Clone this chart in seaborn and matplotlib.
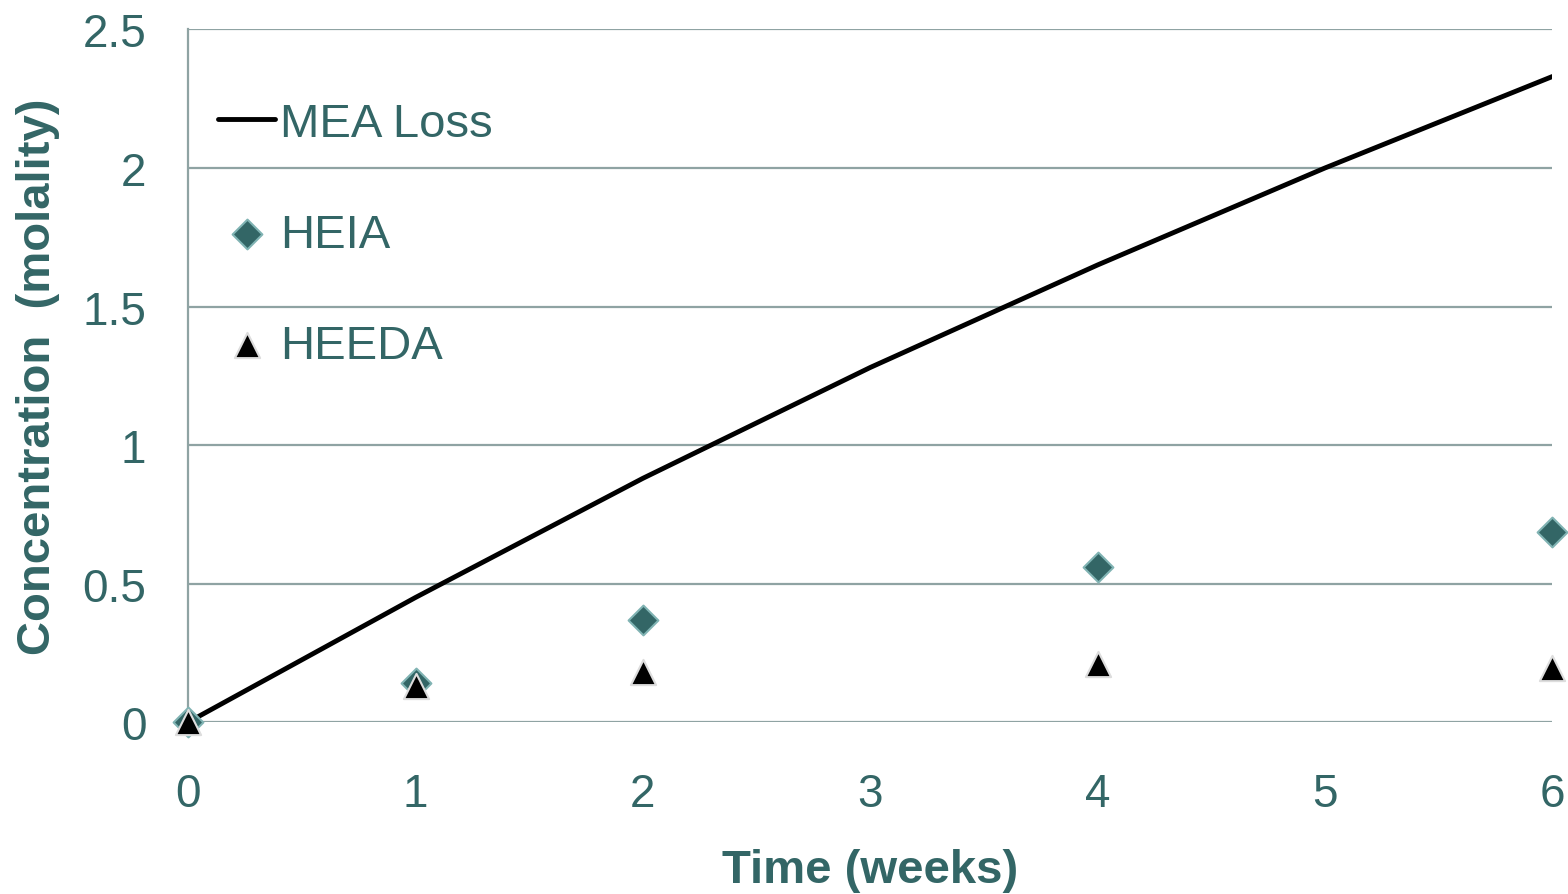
import numpy as np
import pandas as pd
import matplotlib
matplotlib.use('Agg')
import matplotlib.pyplot as plt
import seaborn as sns

# dados
semanas_mea = [0, 1, 2, 3, 4, 5, 6]
mea_loss = [0.0, 0.45, 0.88, 1.28, 1.65, 2.0, 2.33]

semanas_amostra = [0, 1, 2, 4, 6]
heia = [0.0, 0.14, 0.37, 0.56, 0.685]
heeda = [0.0, 0.13, 0.18, 0.21, 0.195]

cor_texto = '#336666'
cor_grade = '#8fa3a3'

sns.set_style('white')
plt.rcParams['font.family'] = ['Liberation Sans', 'DejaVu Sans']

df_mea = pd.DataFrame({'Semana': semanas_mea, 'Valor': mea_loss})
df_amostras = pd.DataFrame({'Semana': semanas_amostra, 'HEIA': heia, 'HEEDA': heeda})

fig = plt.figure(figsize=(15.68, 8.95), dpi=100)
ax = fig.add_axes([0.12, 0.192, 0.870, 0.774])

for y in [0, 0.5, 1, 1.5, 2, 2.5]:
    ax.axhline(y, color=cor_grade, lw=1.6, zorder=0)

sns.lineplot(data=df_mea, x='Semana', y='Valor', ax=ax, color='black', lw=3.5,
             label='MEA Loss', zorder=3)
sns.scatterplot(data=df_amostras, x='Semana', y='HEIA', ax=ax, marker='D', s=230,
                color=cor_texto, edgecolor='#80b3b3', linewidth=1.5, label='HEIA',
                zorder=4, clip_on=False)
sns.scatterplot(data=df_amostras, x='Semana', y='HEEDA', ax=ax, marker='^', s=330,
                color='black', edgecolor='#dddddd', linewidth=1.5, label='HEEDA',
                zorder=5, clip_on=False)

ax.set_xlim(0, 6)
ax.set_ylim(0, 2.5)
ax.set_xticks([0, 1, 2, 3, 4, 5, 6])
ax.set_yticks([0, 0.5, 1, 1.5, 2, 2.5])
ax.set_yticklabels(['0', '0.5', '1', '1.5', '2', '2.5'])
ax.tick_params(axis='both', length=0, labelsize=33, colors=cor_texto)
ax.tick_params(axis='x', pad=36)
ax.tick_params(axis='y', pad=30)

for lado in ['top', 'right', 'bottom']:
    ax.spines[lado].set_visible(False)
ax.spines['left'].set_color(cor_grade)
ax.spines['left'].set_linewidth(1.6)

ax.set_xlabel('Time (weeks)', fontsize=34, fontweight='bold', color=cor_texto, labelpad=23)
ax.set_ylabel('Concentration  (molality)', fontsize=34, fontweight='bold',
              color=cor_texto, labelpad=16)

leg = ax.legend(loc='upper left', bbox_to_anchor=(-0.009, 0.957), frameon=False,
                fontsize=34, labelspacing=1.42, handlelength=1.2, handletextpad=0.1,
                labelcolor=cor_texto)

fig.savefig('out.png', dpi=100)
